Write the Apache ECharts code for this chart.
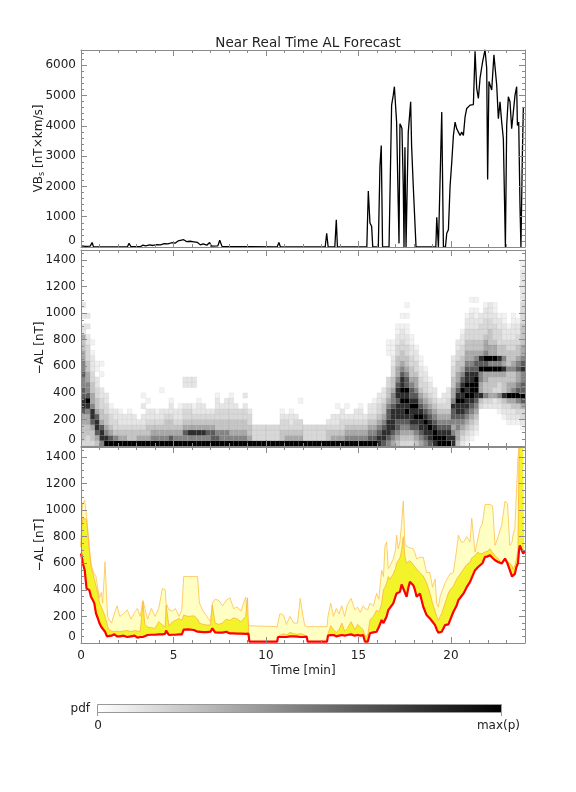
<!DOCTYPE html>
<html><head><meta charset="utf-8">
<script src="https://cdn.jsdelivr.net/npm/echarts@6/dist/echarts.min.js"></script>
<style>html,body{margin:0;padding:0;background:#fff}#c{width:576px;height:792px}</style>
</head><body><div id="c"></div>
<script>
// ---------- DATA ----------
// Top panel: VBs [nT x km/s] vs time [min]
const vbTime = [0,0.1,0.25,0.5,0.6,0.68,1.0,1.7,1.75,1.8,2.5,2.6,2.7,3.2,3.35,3.5,3.7,3.9,4.1,4.3,4.5,4.7,4.9,5.1,5.25,5.35,5.55,5.7,5.9,6.1,6.3,6.45,6.6,6.8,6.95,7.05,7.4,7.5,7.62,7.7,10.6,10.7,10.78,13.2,13.28,13.36,13.72,13.8,13.86,15.45,15.53,15.62,15.71,15.77,16.07,16.16,16.23,16.3,16.65,16.79,16.88,16.94,17.06,17.15,17.19,17.24,17.3,17.35,17.42,17.46,17.51,17.57,17.69,17.82,17.87,17.96,18.04,18.11,19.18,19.23,19.32,19.41,19.5,19.59,19.7,19.77,19.86,19.95,20.04,20.13,20.22,20.31,20.4,20.49,20.58,20.67,20.76,20.85,21.03,21.21,21.3,21.39,21.48,21.57,21.71,21.84,21.93,21.98,22.05,22.2,22.32,22.47,22.56,22.65,22.74,22.83,22.94,23.01,23.1,23.19,23.28,23.37,23.46,23.55,23.59,23.66,23.73,23.78,23.86,23.91,23.95];
const vbVal = [40,50,20,30,150,0,0,0,50,0,0,120,10,10,60,40,70,50,80,70,110,100,140,130,200,160,240,180,190,170,150,70,100,60,150,30,40,220,20,0,0,150,0,0,455,0,0,900,0,0,1845,790,680,0,0,2680,3345,0,0,4680,5010,5290,4120,1345,120,4070,3990,3900,2010,0,3290,0,3790,4790,3345,2010,2010,0,0,980,0,0,4455,0,0,455,567,2010,2790,3680,4120,3900,3790,3680,3790,3680,4290,4570,4680,4700,6455,5235,4900,5570,6120,6510,5900,2230,5460,5180,6340,5345,4235,4790,4120,3570,0,4010,4955,4790,3900,3900,5010,5290,4010,4120,1345,0,3120,4570,4620];

// Middle panel: pdf of -AL, one string per time bin; char r = intensity (0..9) of value bin r
const pdfBinMin = 0.25;   // minutes per time bin
const pdfBinNT = 40;      // nT per value bin
const pdfCols = [
"344455788776676655445220202","33445568976655443332202020","34457886554433222101","4578875443322011",
"6887544332200101","9865443322","97543321","9643322","9543221","954322","9443221","944322",
"95432","9543220201","954432201","9654322","9654321","96543220001","9654432","975443221",
"9654322","96543221","9675433200022","9685433200022","9685432100022","968543221","96854322","9675432",
"9775432","9764433221","96644332","966443322","9654433221","96544332","9654433","9654433202",
"9544332","9333","9333","9333","9333","9333","9333","9443321",
"954332","9543221","954332","954330001","9333","9333","9333","9333",
"9333","94432","9543220","95432201","9543322","96543201","965432","9654322",
"96543221","965432","97654322","976543221","8876543322","78876544322","67888776544330000111","567888876654433221110",
"45677888788765544332211","3456788898988765443322101","3456789898977654433221101010","345788898776544332211","4567898987655433221","56788987654332211","678898765433221","7889876543221",
"89987654322","998765432","9987654322","98876543322","88656778655443322","45566788987655443322","2345678898987654433221","1234567889898876554433221",
"0123456789998876554433222101","0012345678999877654433221101","0000000348556697854433322","000000023644559796554333221","000000023544459695544433222","000000022534459695543332211","0000001236334596844333221","0000012348444585644322211",
"00001223595544644433221","0000122459654465443322211","000012346976557654433221","00012335797766876554444333322222211"
];

// Bottom panel: forecast -AL [nT]
const alTime = [0,0.05,0.1,0.2,0.3,0.4,0.45,0.54,0.65,0.72,0.81,0.9,1.0,1.1,1.17,1.3,1.4,1.44,1.5,1.65,1.8,1.95,2.1,2.3,2.5,2.7,2.9,3.05,3.2,3.35,3.45,3.6,3.8,4.0,4.2,4.4,4.55,4.6,4.75,4.95,5.1,5.3,5.45,5.55,5.8,6.1,6.3,6.4,6.6,6.8,7.0,7.1,7.25,7.45,7.65,7.85,8.05,8.25,8.45,8.65,8.9,9.0,9.05,9.1,10.6,10.65,10.75,10.95,11.1,11.3,11.5,11.7,11.85,12.0,12.1,12.2,12.25,13.3,13.35,13.5,13.65,13.8,13.95,14.1,14.25,14.4,14.6,14.8,14.95,15.1,15.25,15.35,15.5,15.62,15.8,15.98,16.1,16.25,16.35,16.43,16.52,16.61,16.7,16.88,17.0,17.06,17.15,17.24,17.33,17.42,17.51,17.6,17.7,17.78,17.96,18.05,18.14,18.32,18.5,18.68,18.86,19.0,19.14,19.23,19.32,19.41,19.5,19.68,19.86,19.95,20.13,20.3,20.4,20.55,20.68,20.85,21.03,21.12,21.3,21.45,21.57,21.7,21.84,21.95,22.11,22.25,22.38,22.55,22.74,22.92,23.05,23.18,23.3,23.36,23.45,23.54,23.62,23.68,23.72,23.9,24.0];
const alRed = [673,640,598,548,410,400,398,348,320,298,223,190,148,120,110,85,50,35,48,55,65,50,50,55,45,50,55,40,45,45,50,60,62,62,65,65,70,93,60,62,62,65,65,100,103,98,85,85,82,82,85,110,80,78,78,85,72,72,70,70,68,70,70,10,10,45,45,45,45,50,50,48,45,45,48,48,10,10,55,60,60,50,55,60,55,60,65,55,60,55,60,10,10,73,80,85,120,173,150,135,200,248,260,298,350,373,385,385,440,448,380,348,420,460,435,400,348,373,273,210,185,160,135,100,78,80,85,135,140,148,235,280,323,350,373,420,460,490,548,570,585,600,648,650,660,640,623,610,598,635,600,548,500,485,520,573,600,700,735,673,690];
const alYellow = [723,900,940,948,930,930,700,573,520,480,473,380,300,270,248,200,150,123,100,90,85,90,85,90,95,85,95,90,85,310,140,120,115,110,160,135,120,285,130,160,170,185,170,210,200,205,180,150,140,135,135,285,150,140,150,180,170,190,180,160,200,340,120,10,10,50,60,70,60,80,70,65,70,65,65,50,10,10,70,130,100,80,100,150,90,110,160,100,140,120,100,50,60,173,200,248,230,298,400,420,450,500,480,520,560,600,620,640,700,800,650,600,610,620,590,575,556,530,504,453,377,300,240,200,170,200,223,300,377,400,428,479,500,530,556,590,607,640,658,684,671,675,684,690,709,680,658,632,607,640,610,600,580,556,580,632,700,1470,1470,1470,1470];
const alLight = [723,1000,1050,1073,950,940,720,600,540,520,500,420,340,380,300,610,300,200,180,150,220,280,200,220,250,180,230,260,200,320,315,180,260,200,260,410,400,300,250,240,260,200,250,500,500,500,500,300,240,200,160,300,330,320,280,320,340,260,270,240,345,345,130,123,123,123,220,210,140,200,150,150,335,200,130,120,123,123,200,300,200,260,220,280,200,290,335,250,270,230,280,260,250,300,280,373,330,548,500,730,760,560,580,632,700,811,709,760,900,1068,740,735,720,730,709,680,632,645,645,530,530,420,480,300,270,350,360,453,500,520,530,700,811,760,760,800,760,939,684,780,863,900,1042,1042,1042,1030,735,800,889,1068,1050,735,760,820,860,863,1400,1470,1470,1470,1470];

// Texts
const titleText = 'Near Real Time AL Forecast';
const xName = 'Time [min]';
const pdfLabels = ['pdf', '0', 'max(p)'];

// ---------- CHART ----------
const chart = echarts.init(document.getElementById('c'), null, {renderer: 'canvas'});
const FONT = 'DejaVu Sans';
const AX = '#8a8a8a';
const grids = [
  {left: 81, width: 444, top: 50, height: 197},
  {left: 81, width: 444, top: 250, height: 196},
  {left: 81, width: 444, top: 447, height: 196}
];
const plain = v => String(v);
function xAx(gi, pos, showLabel) {
  const a = {
    type: 'value', gridIndex: gi, position: pos, min: 0, max: 24, interval: 5, z: 10,
    axisLine: {show: true, onZero: false, lineStyle: {color: AX, width: 1}},
    axisTick: {show: true, inside: true, length: 6, lineStyle: {color: AX}},
    minorTick: {show: true, splitNumber: 5, length: 3, lineStyle: {color: AX}},
    splitLine: {show: false},
    axisLabel: {show: showLabel, color: '#222', fontSize: 12, fontFamily: FONT, margin: 7,
      showMaxLabel: false, formatter: plain}
  };
  if (showLabel) {
    a.name = xName; a.nameLocation = 'middle'; a.nameGap = 22; a.nameMoveOverlap = false;
    a.nameTextStyle = {color: '#222', fontSize: 12, fontFamily: FONT};
  }
  return a;
}
function yAx(gi, pos, max, interval, minorN, showLabel, name) {
  const a = {
    type: 'value', gridIndex: gi, position: pos, min: 0, max: max, interval: interval, z: 10,
    axisLine: {show: true, onZero: false, lineStyle: {color: AX, width: 1}},
    axisTick: {show: true, inside: true, length: 6, lineStyle: {color: AX}},
    minorTick: {show: true, splitNumber: minorN, length: 3, lineStyle: {color: AX}},
    splitLine: {show: false},
    axisLabel: {show: showLabel, color: '#222', fontSize: 12, fontFamily: FONT, margin: 5,
      showMaxLabel: false, verticalAlignMinLabel: 'bottom', formatter: plain}
  };
  if (name) {
    a.name = name; a.nameLocation = 'middle'; a.nameGap = 35; a.nameMoveOverlap = false;
    a.nameTextStyle = {color: '#222', fontSize: 12, fontFamily: FONT,
      rich: {a: {fontSize: 12, fontFamily: FONT, color: '#222'},
             s: {fontSize: 8, fontFamily: FONT, color: '#222', padding: [7, 0, 0, 0]}}};
  }
  return a;
}

const pdfData = [];
pdfCols.forEach((col, k) => {
  for (let r = 0; r < col.length; r++) {
    const d = +col[r];
    if (d > 0) pdfData.push([k * pdfBinMin, (k + 1) * pdfBinMin, r * pdfBinNT, (r + 1) * pdfBinNT, d]);
  }
});
const pair = (ts, vs) => ts.map((t, i) => [t, vs[i]]);

const option = {
  animation: false,
  backgroundColor: '#fff',
  title: {text: titleText, left: 303, top: 31, textAlign: 'center',
    textStyle: {color: '#222', fontSize: 13.5, fontWeight: 'normal', fontFamily: FONT}},
  grid: grids,
  xAxis: [xAx(0, 'bottom', false), xAx(0, 'top', false), xAx(1, 'bottom', false), xAx(1, 'top', false), xAx(2, 'bottom', true), xAx(2, 'top', false)],
  yAxis: [
    yAx(0, 'left', 6500, 1000, 5, true, '{a|VB}{s|s}{a| [nT×km/s]}'), yAx(0, 'right', 6500, 1000, 5, false),
    yAx(1, 'left', 1475, 200, 4, true, '−AL [nT]'), yAx(1, 'right', 1475, 200, 4, false),
    yAx(2, 'left', 1475, 200, 4, true, '−AL [nT]'), yAx(2, 'right', 1475, 200, 4, false)
  ],
  visualMap: {show: false, type: 'continuous', min: 0, max: 9, dimension: 4, seriesIndex: 1,
    inRange: {color: ['#ffffff', '#f2f2f2', '#e6e6e6', '#d8d8d8', '#c4c4c4', '#a8a8a8', '#858585', '#5c5c5c', '#2e2e2e', '#000000']}},
  series: [
    {type: 'line', xAxisIndex: 0, yAxisIndex: 0, data: pair(vbTime, vbVal), symbol: 'none',
      lineStyle: {color: '#000', width: 1.3}, z: 3},
    {type: 'custom', xAxisIndex: 2, yAxisIndex: 2, data: pdfData, clip: true,
      encode: {x: [0, 1], y: [2, 3]},
      renderItem: (params, api) => {
        const p0 = api.coord([api.value(0), api.value(3)]);
        const p1 = api.coord([api.value(1), api.value(2)]);
        return {type: 'rect', shape: {x: p0[0], y: p0[1], width: p1[0] - p0[0], height: p1[1] - p0[1]},
          style: {fill: api.visual('color'), stroke: 'rgba(0,0,0,0.08)', lineWidth: 0.5}};
      }},
    {type: 'line', xAxisIndex: 4, yAxisIndex: 4, data: pair(alTime, alLight), symbol: 'none',
      lineStyle: {color: '#FFC04D', width: 0.8}, areaStyle: {color: '#FFFFC4', opacity: 1, origin: 'start'}, z: 2},
    {type: 'line', xAxisIndex: 4, yAxisIndex: 4, data: pair(alTime, alYellow), symbol: 'none',
      lineStyle: {color: '#FFB040', width: 0.8}, areaStyle: {color: '#F3F32C', opacity: 1, origin: 'start'}, z: 3},
    {type: 'line', xAxisIndex: 4, yAxisIndex: 4, data: pair(alTime, alRed), symbol: 'none',
      lineStyle: {color: '#FF0000', width: 2.2}, areaStyle: {color: '#ffffff', opacity: 1, origin: 'start'}, z: 4}
  ],
  graphic: [
    {type: 'rect', shape: {x: 97.5, y: 704.5, width: 404, height: 8},
      style: {fill: {type: 'linear', x: 0, y: 0, x2: 1, y2: 0,
        colorStops: [{offset: 0, color: '#ffffff'}, {offset: 1, color: '#000000'}]}, stroke: '#999', lineWidth: 1}},
    {type: 'line', shape: {x1: 97.5, y1: 712, x2: 97.5, y2: 716}, style: {stroke: '#999', lineWidth: 1}},
    {type: 'line', shape: {x1: 501.5, y1: 712, x2: 501.5, y2: 716}, style: {stroke: '#999', lineWidth: 1}},
    {type: 'text', x: 90, y: 709, style: {text: pdfLabels[0], fill: '#222', font: '12px "DejaVu Sans"', textAlign: 'right', textVerticalAlign: 'middle'}},
    {type: 'text', x: 98, y: 726, style: {text: pdfLabels[1], fill: '#222', font: '12px "DejaVu Sans"', textAlign: 'center', textVerticalAlign: 'middle'}},
    {type: 'text', x: 520, y: 726, style: {text: pdfLabels[2], fill: '#222', font: '12px "DejaVu Sans"', textAlign: 'right', textVerticalAlign: 'middle'}}
  ]
};
chart.setOption(option);
</script>
</body></html>
